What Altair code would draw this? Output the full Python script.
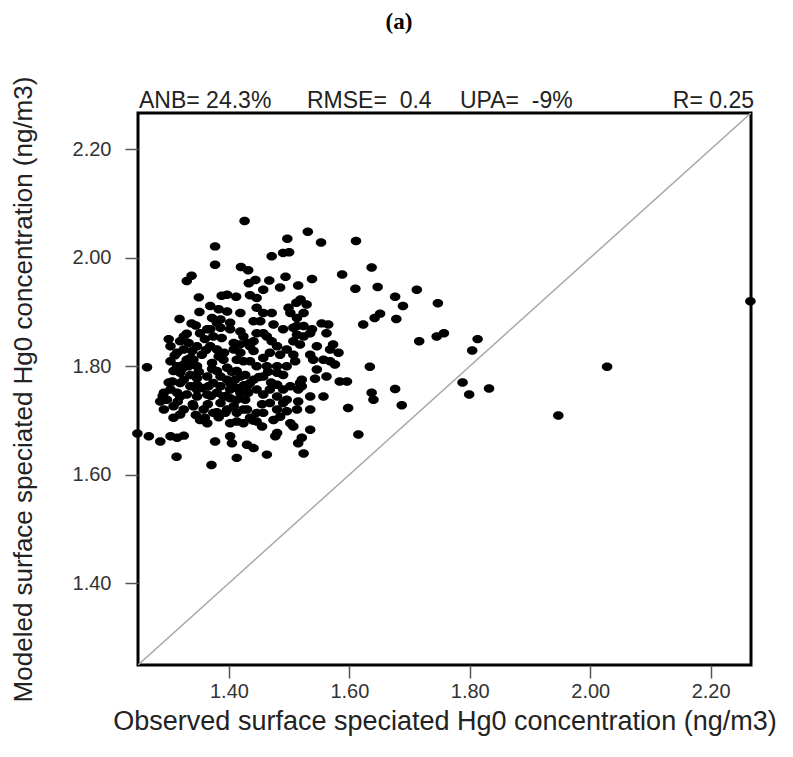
import altair as alt
import pandas as pd

# Observed (x) and modeled (y) surface Hg0 concentrations (ng/m3)
obs = [
    1.426, 1.531, 1.497, 1.553, 1.611, 1.377, 1.471, 1.490, 1.500, 1.377,
    1.420, 1.432, 1.637, 1.588, 1.338, 1.330, 1.538, 1.494, 1.467, 1.444,
    1.433, 1.515, 1.485, 1.457, 1.610, 1.647, 1.712, 1.350, 1.388, 1.397,
    1.412, 1.435, 1.446, 1.676, 1.689, 1.747, 1.512, 1.519, 1.529, 1.499,
    1.369, 1.383, 1.397, 1.446, 1.471, 1.351, 1.318, 1.338, 1.372, 1.380,
    1.441, 1.452, 1.474, 1.513, 1.651, 1.642, 1.678, 1.623, 1.554, 1.565,
    1.524, 1.538, 1.507, 1.352, 1.369, 1.386, 1.402, 1.419, 1.457, 1.463,
    1.562, 1.513, 1.524, 1.535, 1.300, 1.319, 1.333, 1.325, 1.374, 1.388,
    1.430, 1.441, 1.471, 1.507, 1.518, 1.716, 1.745, 1.757, 1.573, 1.582,
    1.325, 1.339, 1.408, 1.419, 1.441, 1.485, 1.496, 1.507, 1.535, 1.557,
    1.568, 1.576, 1.540, 1.330, 1.341, 1.325, 1.347, 1.372, 1.383, 1.413,
    1.424, 1.435, 1.457, 1.480, 1.510, 1.634, 1.264, 1.308, 1.319, 1.336,
    1.347, 1.380, 1.386, 1.397, 1.413, 1.427, 1.419, 1.480, 1.490, 1.543,
    1.562, 1.521, 1.584, 1.596, 1.306, 1.319, 1.336, 1.347, 1.374, 1.386,
    1.402, 1.413, 1.435, 1.446, 1.468, 1.480, 1.490, 1.521, 1.292, 1.303,
    1.314, 1.330, 1.347, 1.364, 1.380, 1.391, 1.402, 1.413, 1.432, 1.457,
    1.480, 1.496, 1.515, 1.518, 1.535, 1.557, 1.637, 1.640, 1.676, 1.687,
    1.598, 1.286, 1.292, 1.308, 1.325, 1.341, 1.358, 1.386, 1.397, 1.408,
    1.424, 1.430, 1.446, 1.468, 1.480, 1.496, 1.513, 1.515, 1.535, 1.308,
    1.319, 1.352, 1.364, 1.383, 1.402, 1.413, 1.424, 1.435, 1.446, 1.455,
    1.474, 1.485, 1.502, 1.507, 1.535, 1.248, 1.267, 1.286, 1.303, 1.314,
    1.325, 1.377, 1.402, 1.405, 1.430, 1.441, 1.477, 1.480, 1.515, 1.521,
    1.615, 1.463, 1.413, 1.524, 1.313, 1.371, 1.813, 1.804, 2.028, 1.788,
    1.799, 1.832, 1.947, 2.266,
    1.303, 1.314, 1.333, 1.355, 1.364, 1.319, 1.366, 1.397, 1.402, 1.391,
    1.419, 1.297, 1.374, 1.325, 1.347, 1.394, 1.413, 1.427, 1.303, 1.314,
    1.435, 1.446, 1.424, 1.408, 1.468, 1.480, 1.490, 1.513, 1.524, 1.502,
    1.457, 1.419, 1.402, 1.386, 1.364, 1.463, 1.446, 1.496, 1.502, 1.457,
    1.441, 1.430, 1.490, 1.457, 1.546, 1.568, 1.546, 1.369, 1.380, 1.347,
    1.310, 1.322, 1.336, 1.350, 1.362, 1.372, 1.392, 1.405, 1.418, 1.355,
    1.370, 1.395, 1.410, 1.425, 1.340, 1.365, 1.380, 1.300, 1.290, 1.315,
    1.345, 1.360, 1.450, 1.465, 1.470, 1.455, 1.440, 1.330, 1.345, 1.360,
]
mod = [
    2.068, 2.048, 2.035, 2.028, 2.031, 2.021, 2.003, 2.009, 2.010, 1.987,
    1.983, 1.977, 1.982, 1.969, 1.967, 1.957, 1.961, 1.965, 1.958, 1.959,
    1.953, 1.949, 1.945, 1.941, 1.943, 1.946, 1.941, 1.927, 1.930, 1.932,
    1.928, 1.931, 1.926, 1.928, 1.911, 1.916, 1.917, 1.923, 1.914, 1.908,
    1.911, 1.905, 1.901, 1.908, 1.898, 1.900, 1.887, 1.879, 1.889, 1.880,
    1.883, 1.883, 1.877, 1.889, 1.897, 1.889, 1.887, 1.877, 1.879, 1.877,
    1.874, 1.868, 1.871, 1.861, 1.868, 1.871, 1.868, 1.864, 1.861, 1.855,
    1.861, 1.858, 1.855, 1.861, 1.850, 1.846, 1.843, 1.855, 1.855, 1.852,
    1.843, 1.846, 1.846, 1.846, 1.840, 1.846, 1.855, 1.861, 1.840, 1.825,
    1.831, 1.828, 1.831, 1.825, 1.828, 1.821, 1.831, 1.821, 1.821, 1.812,
    1.809, 1.803, 1.812, 1.812, 1.812, 1.803, 1.800, 1.806, 1.818, 1.812,
    1.809, 1.809, 1.815, 1.800, 1.809, 1.799, 1.798, 1.791, 1.788, 1.784,
    1.778, 1.791, 1.781, 1.775, 1.791, 1.784, 1.781, 1.788, 1.784, 1.777,
    1.781, 1.775, 1.772, 1.772, 1.772, 1.769, 1.763, 1.766, 1.769, 1.763,
    1.757, 1.760, 1.769, 1.757, 1.757, 1.766, 1.757, 1.763, 1.751, 1.757,
    1.751, 1.748, 1.744, 1.748, 1.751, 1.744, 1.741, 1.738, 1.751, 1.748,
    1.744, 1.738, 1.757, 1.769, 1.744, 1.744, 1.751, 1.738, 1.758, 1.728,
    1.723, 1.735, 1.720, 1.726, 1.720, 1.726, 1.720, 1.732, 1.720, 1.726,
    1.720, 1.720, 1.714, 1.732, 1.720, 1.717, 1.720, 1.735, 1.720, 1.705,
    1.711, 1.701, 1.695, 1.706, 1.695, 1.698, 1.695, 1.705, 1.698, 1.689,
    1.701, 1.707, 1.695, 1.689, 1.683, 1.676, 1.671, 1.661, 1.671, 1.668,
    1.672, 1.661, 1.671, 1.658, 1.655, 1.649, 1.671, 1.677, 1.658, 1.668,
    1.674, 1.637, 1.631, 1.639, 1.633, 1.618, 1.850, 1.829, 1.799, 1.770,
    1.748, 1.759, 1.709, 1.920,
    1.837, 1.825, 1.800, 1.821, 1.781, 1.744, 1.763, 1.797, 1.769, 1.812,
    1.751, 1.738, 1.714, 1.775, 1.757, 1.714, 1.714, 1.738, 1.809, 1.800,
    1.837, 1.861, 1.855, 1.843, 1.825, 1.837, 1.868, 1.874, 1.898, 1.898,
    1.898, 1.898, 1.880, 1.886, 1.868, 1.800, 1.800, 1.800, 1.763, 1.781,
    1.775, 1.763, 1.732, 1.714, 1.794, 1.831, 1.837, 1.837, 1.831, 1.837,
    1.820, 1.795, 1.815, 1.790, 1.830, 1.795, 1.825, 1.790, 1.840, 1.760,
    1.745, 1.745, 1.775, 1.765, 1.730, 1.730, 1.715, 1.770, 1.745, 1.735,
    1.710, 1.705, 1.780, 1.790, 1.770, 1.730, 1.700, 1.860, 1.875, 1.850,
]

axis_min = 1.249
axis_max = 2.267
diag_vals = [axis_min, axis_max]
tick_vals = [1.40, 1.60, 1.80, 2.00, 2.20]

NB = "\u00a0"
stats_left = ["ANB= 24.3%", f"RMSE={NB} 0.4", f"UPA={NB} -9%"]
stats_right = "R= 0.25"
panel_label = "(a)"
x_title = "Observed surface speciated Hg0 concentration (ng/m3)"
y_title = "Modeled surface speciated Hg0 concentration (ng/m3)"

FONT = "Liberation Sans"
ELLIPSE = "M -1 0 A 1 0.8 0 1 0 1 0 A 1 0.8 0 1 0 -1 0 Z"

pts = pd.DataFrame({"obs": obs, "mod": mod})
diag = pd.DataFrame({"obs": diag_vals, "mod": diag_vals})

xscale = alt.Scale(domain=[axis_min, axis_max], nice=False, zero=False)
yscale = alt.Scale(domain=[axis_min, axis_max], nice=False, zero=False)

axis_common = dict(
    values=tick_vals, format=".2f", grid=False, domain=False,
    ticks=True, tickSize=13, tickWidth=1.5, tickColor="#555555",
    labelFont=FONT, labelFontSize=20, labelColor="#333333",
    titleFont=FONT, titleFontWeight="normal", titleColor="#222222",
)

xenc = alt.X("obs:Q", scale=xscale,
             axis=alt.Axis(title=x_title, labelPadding=3, titlePadding=7,
                           titleFontSize=27, **axis_common))
yenc = alt.Y("mod:Q", scale=yscale,
             axis=alt.Axis(title=y_title, labelPadding=14, titlePadding=36,
                           titleFontSize=26, **axis_common))

diag_line = alt.Chart(diag).mark_line(color="#a8a8a8", strokeWidth=1.5, clip=True).encode(
    x=xenc, y=yenc
)

points = alt.Chart(pts).mark_point(
    shape=ELLIPSE, size=112, filled=True, color="black", opacity=1, strokeWidth=0
).encode(
    x=alt.X("obs:Q", scale=xscale), y=alt.Y("mod:Q", scale=yscale)
)

stats_df = pd.DataFrame({"label": stats_left, "px": [1, 169, 322]})
stats = alt.Chart(stats_df).mark_text(
    align="left", baseline="alphabetic", font=FONT, fontSize=23, color="#222222"
).encode(x=alt.X("px:Q", scale=None), y=alt.value(-5), text="label:N")

rstat = alt.Chart(pd.DataFrame({"label": [stats_right]})).mark_text(
    align="right", baseline="alphabetic", font=FONT, fontSize=23, color="#222222"
).encode(x=alt.value(616), y=alt.value(-5), text="label:N")

title_txt = alt.Chart(pd.DataFrame({"label": [panel_label]})).mark_text(
    align="center", baseline="middle", font="Liberation Serif", fontSize=23,
    fontWeight="bold", color="black"
).encode(x=alt.value(261), y=alt.value(-91), text="label:N")

chart = alt.layer(diag_line, points, stats, rstat, title_txt).properties(
    width=613, height=552,
    padding={"left": 130, "top": 105, "right": 30, "bottom": 80},
    autosize="none",
    background="white",
).configure_view(stroke="black", strokeWidth=3)

chart.save("out.html", embed_options={"renderer": "svg", "actions": False})
